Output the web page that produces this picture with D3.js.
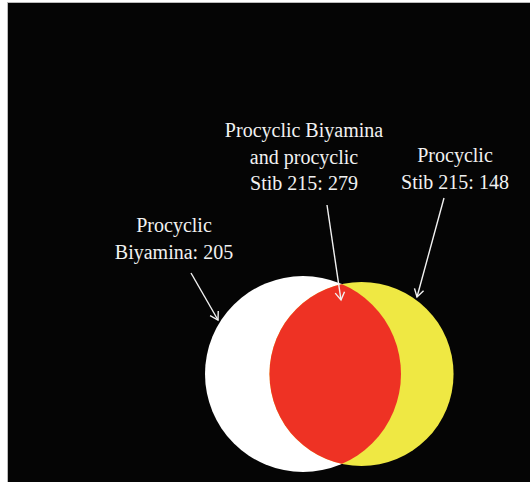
<!DOCTYPE html>
<html lang="en">

<head>
    <meta charset="utf-8">
    <title>D3: Venn diagram</title>
    <script type="text/javascript" src="https://cdn.jsdelivr.net/npm/d3@7"></script>
    <style type="text/css">
    body {
        margin: 0;
        background: #fff;
    }

    .label {
        font-family: "Liberation Serif", "DejaVu Serif", serif;
        font-size: 20px;
        fill: #f2f2f2;
        text-anchor: middle;
    }

    .arrow {
        stroke: #f2f2f2;
        stroke-width: 1.4;
        fill: none;
    }
    </style>
</head>

<body>
    <script type="text/javascript">
    //data
    var setNames = ['Procyclic Biyamina', 'Procyclic Stib 215'];
    var onlyCounts = [205, 148]; //unique to each set
    var sharedCount = 279; //in both sets
    var setColors = ['#ffffff', '#efe843'];
    var overlapColor = '#ee3224';

    //label text, one line per entry
    var labelLeft = ['Procyclic', 'Biyamina: 205'];
    var labelMid = ['Procyclic Biyamina', 'and procyclic', 'Stib 215: 279'];
    var labelRight = ['Procyclic', 'Stib 215: 148'];

    var w = 530,
        h = 482;

    var svg = d3.select('body')
        .append('svg')
        .attr('width', w)
        .attr('height', h);

    //background panel
    svg.append('rect')
        .attr('x', 7)
        .attr('y', 2)
        .attr('width', w - 7)
        .attr('height', h - 2)
        .attr('fill', '#bbbbbb');
    svg.append('rect')
        .attr('x', 8)
        .attr('y', 3)
        .attr('width', w - 8)
        .attr('height', h - 3)
        .attr('fill', '#050505');

    //set totals
    var totals = onlyCounts.map(function(d) { return d + sharedCount; });

    //radius scale: area proportional to count
    var r = d3.scaleSqrt()
        .domain([0, d3.max(totals)])
        .range([0, 98]);

    var r1 = r(totals[0]),
        r2 = r(totals[1]);

    //lens area for two circles at distance d
    function lens(d, a, b) {
        if (d >= a + b) return 0;
        if (d <= Math.abs(a - b)) return Math.PI * Math.min(a, b) * Math.min(a, b);
        var t1 = a * a * Math.acos((d * d + a * a - b * b) / (2 * d * a));
        var t2 = b * b * Math.acos((d * d + b * b - a * a) / (2 * d * b));
        var t3 = 0.5 * Math.sqrt((-d + a + b) * (d + a - b) * (d - a + b) * (d + a + b));
        return t1 + t2 - t3;
    }

    //find distance so overlap area matches shared count
    var target = Math.PI * r1 * r1 * sharedCount / totals[0];
    var lo = Math.abs(r1 - r2),
        hi = r1 + r2;
    for (var i = 0; i < 60; i++) {
        var mid = (lo + hi) / 2;
        if (lens(mid, r1, r2) > target) lo = mid;
        else hi = mid;
    }
    var dist = (lo + hi) / 2;

    var cy = 374;
    var x = d3.scaleLinear()
        .domain([0, 1])
        .range([303, 303 + dist]);

    var circles = [
        { cx: x(0), r: r1, color: setColors[0] },
        { cx: x(1), r: r2, color: setColors[1] }
    ];

    svg.selectAll('circle.set')
        .data(circles)
        .enter()
        .append('circle')
        .attr('class', 'set')
        .attr('cx', function(d) { return d.cx; })
        .attr('cy', cy)
        .attr('r', function(d) { return d.r; })
        .attr('fill', function(d) { return d.color; });

    //overlap region via clip path
    svg.append('clipPath')
        .attr('id', 'clipA')
        .append('circle')
        .attr('cx', circles[0].cx)
        .attr('cy', cy)
        .attr('r', circles[0].r);

    svg.append('circle')
        .attr('cx', circles[1].cx)
        .attr('cy', cy)
        .attr('r', circles[1].r)
        .attr('clip-path', 'url(#clipA)')
        .attr('fill', overlapColor);

    //labels
    var labels = [
        { lines: labelLeft, x: 174, y: 232 },
        { lines: labelMid, x: 304, y: 137 },
        { lines: labelRight, x: 455, y: 162 }
    ];

    labels.forEach(function(l) {
        var t = svg.append('text')
            .attr('class', 'label')
            .attr('x', l.x)
            .attr('y', l.y);
        t.selectAll('tspan')
            .data(l.lines)
            .enter()
            .append('tspan')
            .attr('x', l.x)
            .attr('dy', function(d, i) { return i ? 26.5 : 0; })
            .text(function(d) { return d; });
    });

    //arrows
    var arrows = [
        [[191, 273], [218, 320]],
        [[327, 205], [341, 300]],
        [[444, 198], [417, 297]]
    ];

    arrows.forEach(function(a) {
        var p0 = a[0],
            p1 = a[1];
        var ang = Math.atan2(p1[1] - p0[1], p1[0] - p0[0]);
        var len = 9,
            spread = 0.55;
        svg.append('line')
            .attr('class', 'arrow')
            .attr('x1', p0[0]).attr('y1', p0[1])
            .attr('x2', p1[0]).attr('y2', p1[1]);
        svg.append('path')
            .attr('class', 'arrow')
            .attr('d', 'M' + (p1[0] - len * Math.cos(ang - spread)) + ',' + (p1[1] - len * Math.sin(ang - spread)) +
                'L' + p1[0] + ',' + p1[1] +
                'L' + (p1[0] - len * Math.cos(ang + spread)) + ',' + (p1[1] - len * Math.sin(ang + spread)));
    });
    </script>
</body>

</html>
